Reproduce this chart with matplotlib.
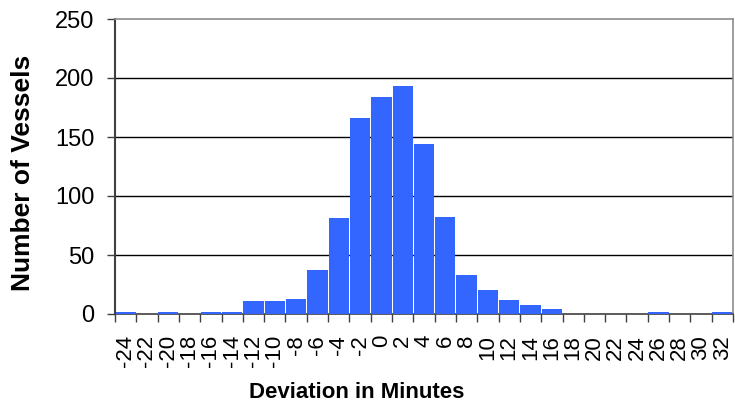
import numpy as np
import matplotlib
matplotlib.use('Agg')
import matplotlib.pyplot as plt
from matplotlib.ticker import FixedLocator, NullFormatter, FixedFormatter

plt.rcParams['font.family'] = ['Liberation Sans', 'DejaVu Sans']

# ── 데이터 ──────────────────────────────────────────────
minutes = list(range(-24, 33, 2))
vessels = [1.5, 0, 2, 0, 2, 2, 11, 11, 13, 37, 81, 166, 184, 193, 144,
           82, 33, 20, 12, 8, 4, 0, 0, 0, 0, 1.5, 0, 0, 1.5]
yticks = [0, 50, 100, 150, 200, 250]

BAR = '#3366FF'
W, H = 735, 408

fig = plt.figure(figsize=(W / 100, H / 100), dpi=100)
ax = fig.add_axes([115 / W, 1 - 314 / H, (733 - 115) / W, (314 - 19) / H])

x = np.arange(len(minutes))
ax.bar(x, vessels, width=0.95, color=BAR, zorder=5)

ax.set_xlim(-0.5, len(minutes) - 0.5)
ax.set_ylim(0, 250)

# 그리드
for v in yticks[1:-1]:
    ax.axhline(v, color='black', lw=1.0, zorder=1)

# 축 테두리
for side in ['top', 'right']:
    ax.spines[side].set_color('#8c8c8c')
    ax.spines[side].set_linewidth(1.2)
ax.spines['left'].set_color('#404040')
ax.spines['left'].set_linewidth(1.5)
ax.spines['bottom'].set_color('#404040')
ax.spines['bottom'].set_linewidth(1.2)
ax.spines['bottom'].set_zorder(4)

# y축
ax.set_yticks(yticks)
ax.tick_params(axis='y', length=6, width=1, color='#404040', pad=9, labelsize=17)

# x축: 경계에 눈금, 중앙에 라벨
ax.xaxis.set_major_locator(FixedLocator(np.arange(len(minutes) + 1) - 0.5))
ax.xaxis.set_major_formatter(NullFormatter())
ax.xaxis.set_minor_locator(FixedLocator(x))
ax.xaxis.set_minor_formatter(FixedFormatter([str(m) for m in minutes]))
ax.tick_params(axis='x', which='major', length=6, width=1, color='#404040')
ax.tick_params(axis='x', which='minor', length=0, pad=15, labelsize=16, labelrotation=90)

fig.text(357 / W, 1 - 392 / H, 'Deviation in Minutes', ha='center', va='center',
         fontsize=16, fontweight='bold')
fig.text(23 / W, 1 - 173 / H, 'Number of Vessels', ha='center', va='center',
         rotation=90, fontsize=19, fontweight='bold')

fig.savefig('out.png', dpi=100, facecolor='white')
